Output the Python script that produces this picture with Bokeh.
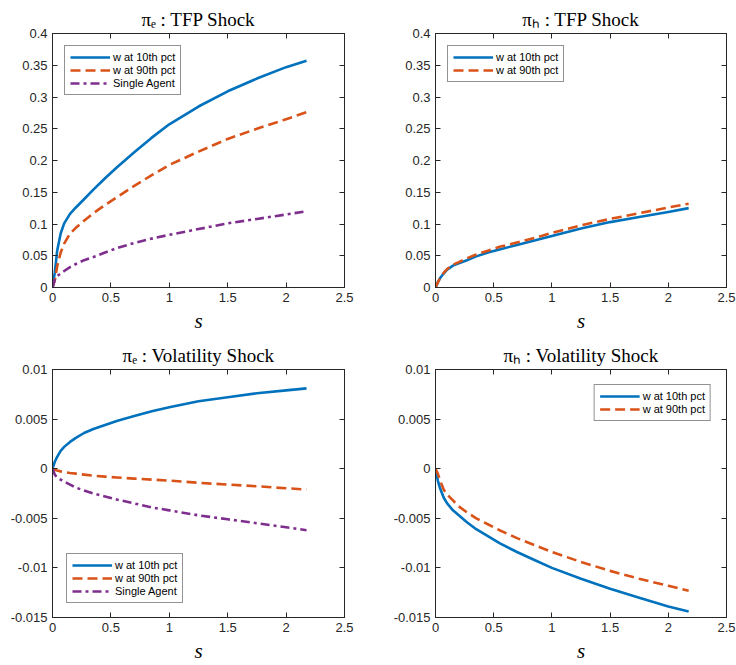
from bokeh.plotting import figure
from bokeh.models import (Range1d, LinearAxis, FixedTicker, PrintfTickFormatter,
                          Legend, LegendItem)
from bokeh.layouts import column, row
from bokeh.embed import file_html
from bokeh.resources import INLINE

# Grid of the state variable s
s = [0, 0.02, 0.04, 0.07, 0.1, 0.15, 0.2, 0.27, 0.35, 0.45, 0.55, 0.7, 0.85,
     1.0, 1.25, 1.5, 1.75, 2.0, 2.175]

# pi_e response to a TFP shock
pe_tfp_w10 = [0, 0.024, 0.058, 0.085, 0.101, 0.116, 0.126, 0.139, 0.154, 0.172, 0.189, 0.213, 0.236,
              0.257, 0.285, 0.309, 0.329, 0.347, 0.357]
pe_tfp_w90 = [0, 0.012, 0.033, 0.055, 0.069, 0.085, 0.094, 0.105, 0.117, 0.130, 0.142, 0.160, 0.177,
              0.193, 0.214, 0.234, 0.250, 0.265, 0.276]
pe_tfp_single = [0, 0.012, 0.018, 0.022, 0.026, 0.032, 0.037, 0.043, 0.048, 0.055, 0.062, 0.070, 0.077,
                 0.083, 0.092, 0.101, 0.108, 0.115, 0.120]

# pi_h response to a TFP shock
ph_tfp_w10 = [0, 0.008, 0.015, 0.022, 0.028, 0.0345, 0.038, 0.043, 0.049, 0.055, 0.060, 0.067, 0.074,
              0.081, 0.093, 0.103, 0.111, 0.119, 0.125]
ph_tfp_w90 = [0, 0.008, 0.015, 0.023, 0.029, 0.036, 0.040, 0.046, 0.052, 0.058, 0.064, 0.071, 0.078,
              0.086, 0.098, 0.108, 0.117, 0.126, 0.132]

# pi_e response to a volatility shock
pe_vol_w10 = [0, 0.0007, 0.0012, 0.0018, 0.0022, 0.0027, 0.0031, 0.0036, 0.0040, 0.0044, 0.0048, 0.0053, 0.0058,
              0.0062, 0.0068, 0.0072, 0.0076, 0.0079, 0.0081]
pe_vol_w90 = [0, -0.0001, -0.00018, -0.00027, -0.00034, -0.00043, -0.0005, -0.0006, -0.0007, -0.0008, -0.00088, -0.001, -0.0011,
              -0.0012, -0.00142, -0.0016, -0.00177, -0.00197, -0.0021]
pe_vol_single = [0, -0.0006, -0.0009, -0.0011, -0.0013, -0.0016, -0.0019, -0.0022, -0.0025, -0.0028, -0.0031, -0.0035, -0.0039,
                 -0.0042, -0.0047, -0.0051, -0.0055, -0.0059, -0.0062]

# pi_h response to a volatility shock
ph_vol_w10 = [0, -0.0012, -0.0020, -0.0029, -0.0035, -0.0042, -0.0047, -0.0054, -0.0061, -0.0068, -0.0075, -0.0084, -0.0092,
              -0.0100, -0.0111, -0.0121, -0.0130, -0.0139, -0.0144]
ph_vol_w90 = [0, -0.0005, -0.0012, -0.0021, -0.0026, -0.0032, -0.0038, -0.0044, -0.0050, -0.0056, -0.0062, -0.0070, -0.0077,
              -0.0084, -0.0094, -0.0103, -0.0111, -0.0118, -0.0123]

x_ticks = [0, 0.5, 1, 1.5, 2, 2.5]
y_ticks_tfp = [0, 0.05, 0.1, 0.15, 0.2, 0.25, 0.3, 0.35, 0.4]
y_ticks_vol = [-0.015, -0.01, -0.005, 0, 0.005, 0.01]

LBL_10 = "w at 10th pct"
LBL_90 = "w at 90th pct"
LBL_SA = "Single Agent"

BLUE = "#0072BD"
ORANGE = "#D95319"
PURPLE = "#7E2F8E"
INK = "#262626"
SANS = "Liberation Sans"
SERIF = "Liberation Serif"

STYLE = {
    LBL_10: dict(color=BLUE, dash="solid"),
    LBL_90: dict(color=ORANGE, dash="10 5"),
    LBL_SA: dict(color=PURPLE, dash="9 4 3 4"),
}


def style_axis(ax, ticks, labels=True):
    ax.ticker = FixedTicker(ticks=ticks)
    ax.formatter = PrintfTickFormatter(format="%g")
    ax.major_tick_in = 5
    ax.major_tick_out = 0
    ax.minor_tick_in = 0
    ax.minor_tick_out = 0
    ax.axis_line_color = INK
    ax.axis_line_width = 1
    ax.major_tick_line_color = INK
    if labels:
        ax.major_label_text_font = SANS
        ax.major_label_text_font_size = "13px"
        ax.major_label_text_color = INK
        ax.major_label_standoff = 5
    else:
        ax.major_label_text_font_size = "0px"
        ax.major_label_text_alpha = 0
        ax.major_label_standoff = 0


def panel(title, y_lo, y_hi, y_ticks, series, legend_loc, legend_margin,
          width, height, bl, br, bt, bb):
    p = figure(width=width, height=height,
               x_range=Range1d(0, 2.5), y_range=Range1d(y_lo, y_hi),
               output_backend="svg", toolbar_location=None,
               min_border_left=bl, min_border_right=br,
               min_border_top=bt, min_border_bottom=bb)
    p.xgrid.visible = False
    p.ygrid.visible = False
    p.outline_line_color = INK
    p.outline_line_width = 1
    p.background_fill_color = "white"
    p.border_fill_color = "white"

    p.title.text = title
    p.title.align = "center"
    p.title.text_font = SERIF
    p.title.text_font_size = "19px"
    p.title.text_font_style = "normal"
    p.title.text_color = "black"
    p.title.standoff = 7

    style_axis(p.xaxis[0], x_ticks)
    style_axis(p.yaxis[0], y_ticks)
    p.xaxis[0].axis_label = "s"
    p.xaxis[0].axis_label_text_font = SERIF
    p.xaxis[0].axis_label_text_font_style = "italic"
    p.xaxis[0].axis_label_text_font_size = "21px"
    p.xaxis[0].axis_label_text_color = "black"
    p.xaxis[0].axis_label_standoff = 4

    top = LinearAxis()
    style_axis(top, x_ticks, labels=False)
    p.add_layout(top, "above")
    right = LinearAxis()
    style_axis(right, y_ticks, labels=False)
    p.add_layout(right, "right")

    items = []
    for label, ys in series:
        st = STYLE[label]
        r = p.line(s, ys, line_color=st["color"], line_width=2.6,
                   line_dash=st["dash"], line_join="round")
        items.append(LegendItem(label=label, renderers=[r]))

    leg = Legend(items=items, location=legend_loc, margin=legend_margin,
                 padding=5, spacing=1, label_height=12, glyph_height=12,
                 glyph_width=40, label_standoff=3,
                 label_text_font=SANS, label_text_font_size="11px",
                 label_text_color="black",
                 border_line_color=INK, border_line_width=0.8,
                 background_fill_color="white", background_fill_alpha=1.0)
    p.add_layout(leg)
    return p


p1 = panel("π\u2091 : TFP Shock", 0, 0.4, y_ticks_tfp,
           [(LBL_10, pe_tfp_w10), (LBL_90, pe_tfp_w90), (LBL_SA, pe_tfp_single)],
           "top_left", 12, 370, 335, 52, 26, 33, 46)
p2 = panel("π\u2095 : TFP Shock", 0, 0.4, y_ticks_tfp,
           [(LBL_10, ph_tfp_w10), (LBL_90, ph_tfp_w90)],
           "top_left", 12, 366, 335, 65, 10, 33, 46)
p3 = panel("π\u2091 : Volatility Shock", -0.015, 0.01, y_ticks_vol,
           [(LBL_10, pe_vol_w10), (LBL_90, pe_vol_w90), (LBL_SA, pe_vol_single)],
           "bottom_left", 14, 370, 330, 52, 26, 34, 41)
p4 = panel("π\u2095 : Volatility Shock", -0.015, 0.01, y_ticks_vol,
           [(LBL_10, ph_vol_w10), (LBL_90, ph_vol_w90)],
           "top_right", 15, 366, 330, 65, 10, 34, 41)

layout = column(row(p1, p2), row(p3, p4))

with open("out.html", "w") as f:
    f.write(file_html(layout, INLINE))
